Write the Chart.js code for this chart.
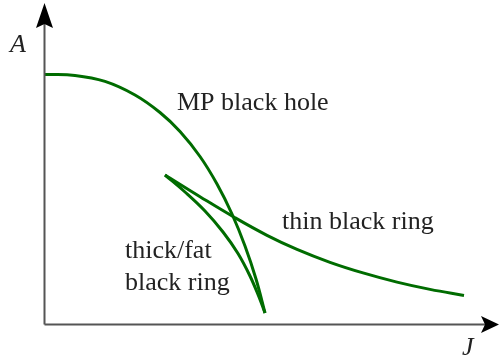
<!DOCTYPE html>
<html>
<head>
<meta charset="utf-8">
<script src="https://cdn.jsdelivr.net/npm/chart.js@4"></script>
<style>
  html, body { margin: 0; padding: 0; background: #fff; }
  canvas { display: block; }
</style>
</head>
<body>
<canvas id="phase" width="499" height="364"></canvas>
<script>
/*
Phase diagram: area A against angular momentum J
for the black hole and the two black ring branches
*/

// J and A values along each branch (arbitrary units)
const mpJ = [0, 30, 60, 90, 115, 135, 155, 172, 187, 200, 211, 220];
const mpA = [250.5, 249.6, 243.6, 230, 212.5, 193.5, 168.5, 141, 111, 79, 46, 12];

const thinJ = [120, 155, 190, 222, 252, 285, 318, 352, 385, 419];
const thinA = [150, 128.3, 107.3, 89.7, 75.6, 62.7, 52.1, 42.9, 35.6, 29.5];

const fatJ = [120, 140, 160, 178, 193, 205, 214, 220];
const fatA = [150, 133, 114, 93, 71.5, 49, 28, 12];

// text placed on the diagram, anchored in J/A units
const curveLabels = [
    { lines: ["MP black hole"], j: 132, a: 215 },
    { lines: ["thin black ring"], j: 237, a: 96 },
    { lines: ["thick/fat", "black ring"], j: 80, a: 67 }
];

const lineColor = '#006c00';
const serif = '"Liberation Serif", "Times New Roman", serif';

function toPoints(xs, ys) {
    let pts = [];
    for (let i = 0; i < xs.length; i++) {
        pts.push({ x: xs[i], y: ys[i] });
    }
    return pts;
}

function branch(label, xs, ys) {
    return {
        label: label,
        data: toPoints(xs, ys),
        borderColor: lineColor,
        borderWidth: 3,
        pointRadius: 0,
        pointHoverRadius: 0,
        fill: false,
        tension: 0.4
    };
}

/**************** Axes with arrow heads *************************/

const arrowAxes = {
    id: 'arrowAxes',
    afterDatasetsDraw(chart) {
        const ctx = chart.ctx;
        const area = chart.chartArea;
        const x0 = area.left - 0.5;
        const y0 = area.bottom - 0.5;

        ctx.save();
        ctx.strokeStyle = '#555555';
        ctx.lineWidth = 2;
        ctx.beginPath();
        ctx.moveTo(x0, y0);
        ctx.lineTo(x0, area.top + 16);
        ctx.moveTo(x0, y0);
        ctx.lineTo(area.right - 12, y0);
        ctx.stroke();

        ctx.fillStyle = '#000';
        // up arrow
        ctx.beginPath();
        ctx.moveTo(x0, area.top);
        ctx.lineTo(x0 + 8.5, area.top + 25);
        ctx.lineTo(x0, area.top + 21);
        ctx.lineTo(x0 - 8.5, area.top + 25);
        ctx.closePath();
        ctx.fill();
        // right arrow
        ctx.beginPath();
        ctx.moveTo(area.right, y0);
        ctx.lineTo(area.right - 18, y0 - 8.5);
        ctx.lineTo(area.right - 14, y0);
        ctx.lineTo(area.right - 18, y0 + 8.5);
        ctx.closePath();
        ctx.fill();

        // axis names
        ctx.fillStyle = '#222';
        ctx.font = 'italic 26px ' + serif;
        ctx.textBaseline = 'alphabetic';
        ctx.textAlign = 'left';
        ctx.fillText('A', 10, 52);
        ctx.fillText('J', 462, 355);
        ctx.restore();
    }
};

/**************** Curve labels *************************/

const branchText = {
    id: 'branchText',
    afterDatasetsDraw(chart) {
        const ctx = chart.ctx;
        const xs = chart.scales.x;
        const ys = chart.scales.y;
        ctx.save();
        ctx.fillStyle = '#222';
        ctx.font = '26px ' + serif;
        ctx.textAlign = 'left';
        ctx.textBaseline = 'alphabetic';
        curveLabels.forEach(lbl => {
            const px = xs.getPixelForValue(lbl.j);
            const py = ys.getPixelForValue(lbl.a);
            lbl.lines.forEach((txt, i) => {
                ctx.fillText(txt, px, py + i * 32);
            });
        });
        ctx.restore();
    }
};

function drawChart() {
    new Chart(document.getElementById('phase'), {
        type: 'line',
        data: {
            datasets: [
                branch('MP black hole', mpJ, mpA),
                branch('thin black ring', thinJ, thinA),
                branch('thick/fat black ring', fatJ, fatA)
            ]
        },
        options: {
            responsive: false,
            animation: false,
            events: [],
            layout: {
                padding: { left: 45, right: 0, top: 3, bottom: 39 }
            },
            scales: {
                x: { type: 'linear', display: false, min: 0, max: 454 },
                y: { type: 'linear', display: false, min: 0, max: 322 }
            },
            plugins: {
                legend: { display: false },
                tooltip: { enabled: false }
            }
        },
        plugins: [arrowAxes, branchText]
    });
}

// make sure the serif face is ready before the canvas text is drawn
Promise.all([
    document.fonts.load('26px "Liberation Serif"'),
    document.fonts.load('italic 26px "Liberation Serif"')
]).then(drawChart, drawChart);
</script>
</body>
</html>
